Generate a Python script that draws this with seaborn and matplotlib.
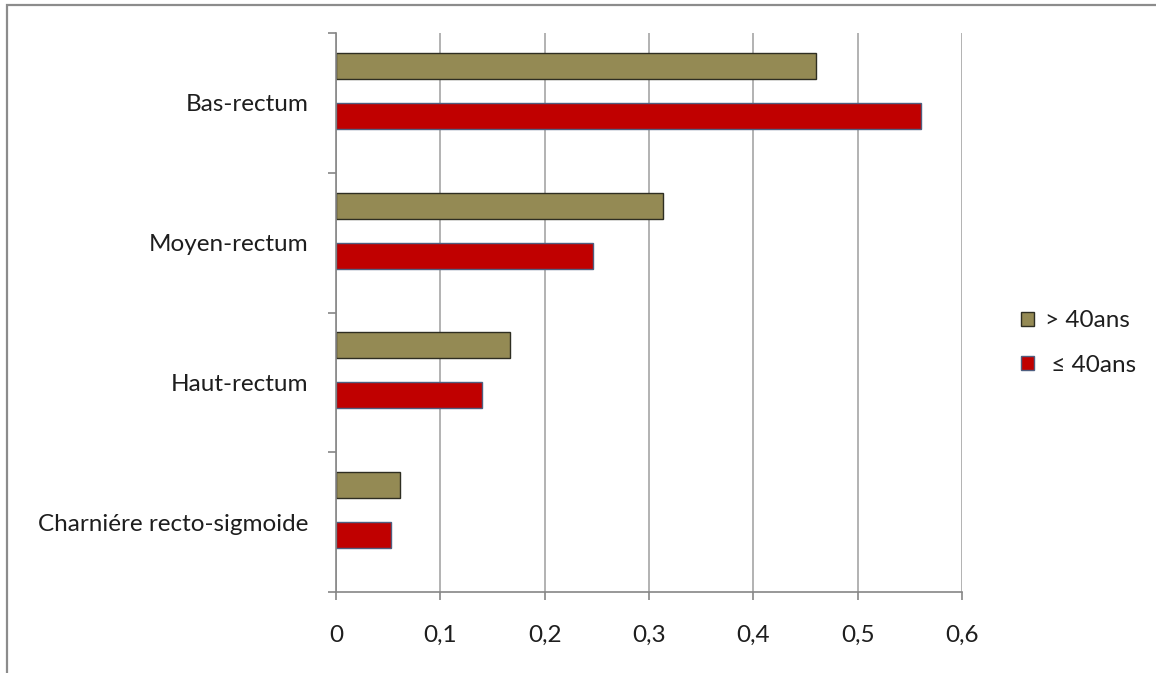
import matplotlib
matplotlib.use("Agg")
import matplotlib.pyplot as plt
from matplotlib.patches import Patch, Rectangle
from matplotlib.ticker import FixedLocator, FuncFormatter
import pandas as pd
import seaborn as sns

# Tumour location by age group (proportion of patients)
regions = ["Bas-rectum", "Moyen-rectum", "Haut-rectum", "Charniére recto-sigmoide"]
groups = ["> 40ans", "≤ 40ans"]
over_40 = [0.460, 0.313, 0.167, 0.061]
under_40 = [0.561, 0.246, 0.140, 0.053]
x_ticks = [0, 0.1, 0.2, 0.3, 0.4, 0.5, 0.6]

df = pd.DataFrame({
    "region": regions * 2,
    "group": [groups[0]] * len(regions) + [groups[1]] * len(regions),
    "value": over_40 + under_40,
})

sns.set_style("white")
plt.rcParams["font.family"] = ["Lato", "DejaVu Sans"]

W, H = 1156, 673
fig = plt.figure(figsize=(W / 100, H / 100), dpi=100)
ax = fig.add_axes([336 / W, 1 - 592 / H, (962 - 336) / W, (592 - 33) / H])

face = {groups[0]: "#948A54", groups[1]: "#C00000"}
edge = {groups[0]: "#2E2E22", groups[1]: "#4F5F80"}

sns.barplot(data=df, y="region", x="value", hue="group", order=regions,
            hue_order=groups, orient="h", palette=face, saturation=1,
            ax=ax, legend=False, errorbar=None)

# Excel-style placement of the two bars inside each category band
bar_h = 26 / 140
centers = {groups[0]: -0.5 + 33 / 140, groups[1]: -0.5 + 83 / 140}
for g, cont in zip(groups, ax.containers):
    for i, bar in enumerate(cont):
        bar.set_height(bar_h)
        bar.set_y(i + centers[g] - bar_h / 2)
        bar.set_facecolor(face[g])
        bar.set_edgecolor(edge[g])
        bar.set_linewidth(1.0)

ax.set_xlim(0, 0.6)
ax.set_ylim(len(regions) - 0.5, -0.5)
ax.set_xlabel("")
ax.set_ylabel("")

grid_c = "#A6A6A6"
axis_c = "#868686"
text_c = "#1E1E1E"
fs = 17.5

ax.xaxis.set_major_locator(FixedLocator(x_ticks))
ax.xaxis.set_major_formatter(FuncFormatter(lambda v, p: ("%g" % round(v, 2)).replace(".", ",")))
ax.grid(axis="x", color=grid_c, linewidth=1.2)
ax.grid(axis="y", visible=False)
ax.set_axisbelow(True)

# category boundaries carry the ticks; labels sit at the band centres
ax.yaxis.set_major_locator(FixedLocator([i - 0.5 for i in range(len(regions) + 1)]))
ax.yaxis.set_major_formatter(FuncFormatter(lambda v, p: ""))
ax.yaxis.set_minor_locator(FixedLocator(range(len(regions))))
ax.set_yticklabels(regions, minor=True)

ax.tick_params(axis="x", which="major", direction="out", length=6, width=1.2,
               color=axis_c, pad=18, labelsize=fs, labelcolor=text_c, bottom=True)
ax.tick_params(axis="y", which="major", direction="out", length=6, width=1.2,
               color=axis_c, left=True)
ax.tick_params(axis="y", which="minor", length=0, pad=20, labelsize=fs,
               labelcolor=text_c)

for s in ["top", "right"]:
    ax.spines[s].set_visible(False)
for s in ["left", "bottom"]:
    ax.spines[s].set_color(axis_c)
    ax.spines[s].set_linewidth(1.2)

handles = [Patch(facecolor=face[g], edgecolor=edge[g], linewidth=1.0) for g in groups]
fig.legend(handles, ["> 40ans", " ≤ 40ans"], loc="center left",
           bbox_to_anchor=(1021 / W, 1 - 343 / H), frameon=False, fontsize=fs,
           handlelength=0.55, handleheight=0.55, handletextpad=0.45,
           labelspacing=0.95, borderpad=0, borderaxespad=0,
           labelcolor=text_c)

# outer chart-area frame
fig.patches.append(Rectangle((7 / W, -0.1), 1.2, 1 - 5 / H + 0.1,
                             transform=fig.transFigure, fill=False,
                             edgecolor="#8C8C8C", linewidth=1.6))

fig.savefig("out.png", dpi=100, facecolor="white")
